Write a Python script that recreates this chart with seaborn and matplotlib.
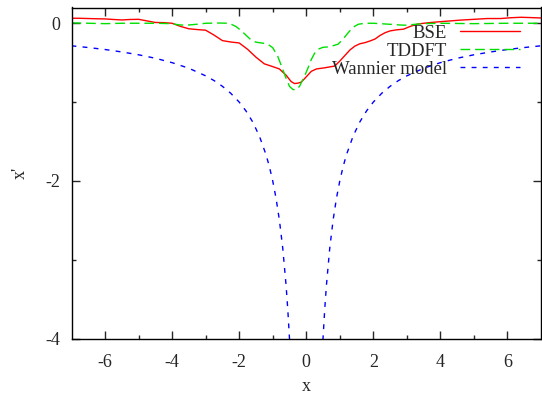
import numpy as np
import pandas as pd
import matplotlib
matplotlib.use("Agg")
import matplotlib.pyplot as plt
import seaborn as sns

# ---- data ----
bse_x = [-7.0, -6.75, -6.5, -6.25, -6.0, -5.75, -5.5, -5.25, -5.0, -4.75, -4.5, -4.25, -4.0,
         -3.75, -3.5, -3.25, -3.0, -2.75, -2.5, -2.25, -2.0, -1.75, -1.5, -1.25, -1.0, -0.8,
         -0.6, -0.45, -0.35, -0.25, -0.15, 0.0, 0.15, 0.3, 0.55, 0.85, 1.0, 1.15, 1.3, 1.45,
         1.6, 1.75, 1.9, 2.05, 2.2, 2.35, 2.5, 2.7, 2.9, 3.1, 3.3, 3.5, 3.7, 4.0, 4.3, 4.6,
         5.0, 5.4, 5.8, 6.1, 6.4, 6.7, 7.0]
bse_y = [0.064, 0.063, 0.06, 0.057, 0.055, 0.048, 0.042, 0.048, 0.05, 0.03, 0.01, 0.008, 0.0,
         -0.04, -0.07, -0.08, -0.088, -0.15, -0.22, -0.238, -0.25, -0.33, -0.43, -0.515, -0.55, -0.58,
         -0.66, -0.74, -0.765, -0.76, -0.747, -0.68, -0.61, -0.58, -0.565, -0.543, -0.48, -0.41, -0.34, -0.29,
         -0.26, -0.246, -0.225, -0.2, -0.155, -0.12, -0.097, -0.083, -0.075, -0.04, -0.012, 0.0, 0.009, 0.02, 0.03, 0.04,
         0.05, 0.06, 0.06, 0.07, 0.076, 0.072, 0.067]

tddft_x = [-7.0, -6.5, -6.0, -5.5, -5.0, -4.5, -4.0, -3.8, -3.6, -3.4, -3.2, -3.0, -2.6, -2.3,
           -2.1, -1.95, -1.8, -1.65, -1.5, -1.3, -1.15, -1.0, -0.85, -0.75, -0.6, -0.5, -0.4, -0.3,
           -0.2, -0.05, 0.05, 0.15, 0.25, 0.35, 0.5, 0.65, 0.8, 0.95, 1.1, 1.25, 1.4, 1.55, 1.75,
           2.0, 2.2, 2.5, 2.8, 3.0, 3.2, 3.5, 4.0, 5.0, 6.0, 7.0]
tddft_y = [0.005, 0.0, -0.005, 0.0, 0.0, 0.0, -0.005, -0.02, -0.025, -0.018, -0.01, 0.0, 0.003, 0.0,
           -0.04, -0.09, -0.15, -0.21, -0.24, -0.252, -0.265, -0.31, -0.42, -0.53, -0.7, -0.8, -0.84, -0.845,
           -0.8, -0.67, -0.57, -0.46, -0.38, -0.33, -0.305, -0.3, -0.285, -0.265, -0.2, -0.12, -0.05, -0.013, 0.0,
           0.0, -0.005, -0.013, -0.022, -0.025, -0.015, -0.005, 0.0, -0.005, 0.0, 0.0]

wan_left_x = [-7.0, -6.5, -6.0, -5.5, -5.0, -4.5, -4.0, -3.5, -3.0, -2.75, -2.5, -2.25, -2.0, -1.8,
              -1.6, -1.4, -1.2, -1.1, -1.0, -0.9, -0.8, -0.7, -0.6, -0.55, -0.5, -0.45]
wan_left_y = [-0.286, -0.308, -0.333, -0.364, -0.4, -0.444, -0.5, -0.571, -0.667, -0.727, -0.8, -0.889,
              -1.0, -1.111, -1.25, -1.429, -1.667, -1.818, -2.0, -2.222, -2.5, -2.857, -3.333, -3.636, -4.0, -4.444]
wan_right_x = [0.45, 0.5, 0.55, 0.6, 0.7, 0.8, 0.9, 1.0, 1.1, 1.2, 1.4, 1.6, 1.8, 2.0, 2.25, 2.5,
               2.75, 3.0, 3.5, 4.0, 4.5, 5.0, 5.5, 6.0, 6.5, 7.0]
wan_right_y = [-4.444, -4.0, -3.636, -3.333, -2.857, -2.5, -2.222, -2.0, -1.818, -1.667, -1.429, -1.25,
               -1.111, -1.0, -0.889, -0.8, -0.727, -0.667, -0.571, -0.5, -0.444, -0.4, -0.364, -0.333,
               -0.308, -0.286]

labels = ["BSE", "TDDFT", "Wannier model"]
x_ticks = [-6, -4, -2, 0, 2, 4, 6]
y_ticks = [0, -2, -4]

# ---- figure ----
sns.set_style("ticks")
plt.rcParams['font.family'] = ['Liberation Serif', 'DejaVu Serif']
plt.rcParams['axes.unicode_minus'] = False

W, H = 542, 395
fig = plt.figure(figsize=(W / 100, H / 100), dpi=100)
ax = fig.add_axes([71.5 / W, 1 - 338.5 / H, (541 - 71.5) / W, (338.5 - 7.5) / H])

df_bse = pd.DataFrame({"x": bse_x, "y": bse_y})
df_td = pd.DataFrame({"x": tddft_x, "y": tddft_y})
df_wl = pd.DataFrame({"x": wan_left_x, "y": wan_left_y})
df_wr = pd.DataFrame({"x": wan_right_x, "y": wan_right_y})

lw = 1.0
sns.lineplot(data=df_bse, x="x", y="y", ax=ax, color="#ff0000", lw=lw, sort=False, label=labels[0])
sns.lineplot(data=df_td, x="x", y="y", ax=ax, color="#00e000", lw=lw, sort=False,
             label=labels[1], linestyle=(0, (7, 3.5)))
sns.lineplot(data=df_wl, x="x", y="y", ax=ax, color="#0000ff", lw=lw, sort=False,
             label=labels[2], linestyle=(0, (3.5, 4.5)))
sns.lineplot(data=df_wr, x="x", y="y", ax=ax, color="#0000ff", lw=lw, sort=False,
             linestyle=(0, (3.5, 4.5)))

ax.set_xlim(-7, 7)
ax.set_ylim(-4, 0.2)
ax.set_xticks(x_ticks)
ax.set_xticklabels([str(t) for t in x_ticks])
ax.set_xticks([-5, -3, -1, 1, 3, 5], minor=True)
ax.set_yticks(y_ticks)
ax.set_yticklabels([str(t) for t in y_ticks])
ax.set_yticks([-1, -3], minor=True)

for s in ax.spines.values():
    s.set_visible(True)
    s.set_linewidth(1.0)
    s.set_color("black")

ax.tick_params(which="both", direction="in", top=True, right=True, width=1.0, labelsize=13)
ax.tick_params(which="major", length=5.5)
ax.tick_params(which="minor", length=2.8)
ax.tick_params(axis="x", which="major", pad=11)
ax.tick_params(axis="y", which="major", pad=8)

ax.set_xlabel("x", fontsize=13)
ax.set_ylabel("x'", fontsize=13)
ax.xaxis.set_label_coords(0.5, -0.12)
ax.yaxis.set_label_coords(-0.09, 0.5)

leg = ax.legend(loc="upper right", bbox_to_anchor=(520 / W, 1 - 24.5 / H), bbox_transform=fig.transFigure,
                frameon=False, markerfirst=False, borderpad=0, borderaxespad=0,
                handlelength=3.2, handletextpad=0.7, labelspacing=0.05, fontsize=13.5)

fig.savefig("out.png", dpi=100)
